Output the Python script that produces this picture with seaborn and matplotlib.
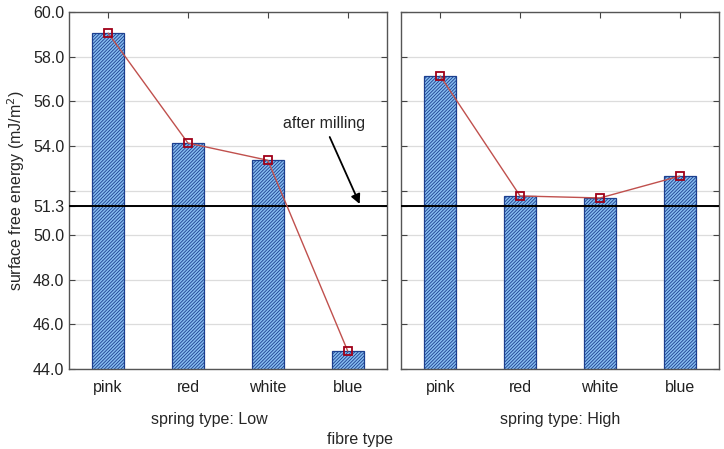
import pandas as pd
import matplotlib
matplotlib.use("Agg")
import matplotlib.pyplot as plt
import seaborn as sns

sns.set_style("white")
plt.rcParams['font.family'] = ['Liberation Sans', 'DejaVu Sans']
plt.rcParams['hatch.linewidth'] = 0.6

# values
fibres = ['pink', 'red', 'white', 'blue']
low_sfe = [59.06, 54.13, 53.36, 44.81]
high_sfe = [57.14, 51.76, 51.67, 52.65]
panels = ['spring type: Low', 'spring type: High']
after_milling = 51.3
yticks = [44.0, 46.0, 48.0, 50.0, 51.3, 52.0, 54.0, 56.0, 58.0, 60.0]

fig = plt.figure(figsize=(7.24, 4.49), dpi=100)
ax1 = fig.add_axes([0.0953, 0.178, 0.439, 0.795])
ax2 = fig.add_axes([0.554, 0.178, 0.439, 0.795])

for ax, vals, title in zip([ax1, ax2], [low_sfe, high_sfe], panels):
    df = pd.DataFrame({'fibre': fibres, 'sfe': vals})
    for y in yticks:
        ax.axhline(y, color='#dcdcdc', lw=0.9, zorder=0)
    sns.barplot(data=df, x='fibre', y='sfe', order=fibres, ax=ax, width=0.4,
                color='#86bdf0', edgecolor='#1c3f8f', linewidth=0.9,
                hatch='//////////', saturation=1, zorder=2)
    sns.pointplot(data=df, x='fibre', y='sfe', order=fibres, ax=ax,
                  color='#c0504d', markers='s', markersize=6,
                  markerfacecolor='none', markeredgecolor='#a00018',
                  markeredgewidth=1.3, linewidth=1.0, zorder=4)
    ax.axhline(after_milling, color='black', lw=1.4, zorder=3)
    ax.set_ylim(44, 60)
    ax.set_xlim(-0.49, 3.49)
    ax.set_yticks(yticks)
    ax.set_xlabel(title, fontsize=11.5, labelpad=12)
    ax.set_ylabel('')
    ax.tick_params(axis='both', direction='in', length=4, color='#444444',
                   labelsize=11.5, labelcolor='#222222',
                   left=True, right=True, top=True, bottom=True)
    ax.tick_params(axis='x', pad=8)
    for s in ax.spines.values():
        s.set_color('#555555')
        s.set_linewidth(1.0)

# the Low label sits a bit left of the panel centre in the original
ax1.xaxis.label.set_x(0.44)

ax1.set_yticklabels(['%.1f' % t if t != 52.0 else '' for t in yticks])
ax2.set_yticklabels([])
ax1.set_ylabel('surface free energy (mJ/m$^2$)', fontsize=11.5, labelpad=4)

ax1.annotate('after milling', xy=(3.15, 51.4), xytext=(2.7, 55.0),
             ha='center', va='center', fontsize=11.5,
             arrowprops=dict(arrowstyle='-|>', color='black', lw=1.3,
                             shrinkA=2, shrinkB=0, mutation_scale=14))

fig.text(0.497, 0.022, 'fibre type', ha='center', va='center', fontsize=11.5)

fig.savefig('out.png', dpi=100)
